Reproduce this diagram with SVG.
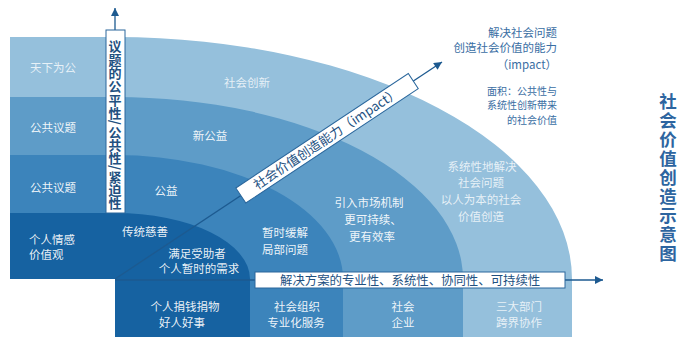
<svg xmlns="http://www.w3.org/2000/svg" width="681" height="338" viewBox="0 0 681 338">
<style>
text{font-family:"Noto Sans CJK SC","Noto Sans",sans-serif;}
.lbl{font-size:11.5px;fill:#ffffff;fill-opacity:0.92;text-anchor:middle;}
.lblL{font-size:11.5px;fill:#ffffff;fill-opacity:0.78;text-anchor:middle;}
.left{text-anchor:start;}
.box{fill:#ffffff;stroke:#2b679c;stroke-width:1;}
.axis{stroke:#1d5a90;stroke-width:1.3;fill:none;}
.btxt{fill:#22507f;}
.side{fill:#3a6ea3;text-anchor:end;}
</style>
<defs>
<marker id="ah" viewBox="0 0 10 10" refX="10" refY="5" markerWidth="9" markerHeight="8" markerUnits="userSpaceOnUse" orient="auto">
<path d="M0,0 L10,5 L0,10 Z" fill="#1d5a90"/>
</marker>
</defs>
<rect width="681" height="338" fill="#ffffff"/>

<g id="band-light">
<path d="M10,37 H115 A457,242 0 0 1 572,279 V337 H115 V279 H10 Z" fill="#95c0dc"/>
<text class="lblL left" x="30" y="72">天下为公</text>
<text class="lblL" x="247" y="87">社会创新</text>
<text class="lblL" x="482" y="171">系统性地解决</text>
<text class="lblL" x="481" y="187">社会问题</text>
<text class="lblL" x="481" y="204">以人为本的社会</text>
<text class="lblL" x="481" y="221">价值创造</text>
<text class="lblL" x="519" y="311">三大部门</text>
<text class="lblL" x="519" y="327">跨界协作</text>
</g>

<g id="band-2">
<path d="M10,97 H115 A348,182 0 0 1 463,279 V337 H115 V279 H10 Z" fill="#5e9cc8"/>
<text class="lbl left" x="30" y="132">公共议题</text>
<text class="lbl" x="210" y="140">新公益</text>
<text class="lbl" x="369" y="207">引入市场机制</text>
<text class="lbl" x="373" y="224">更可持续、</text>
<text class="lbl" x="372" y="241">更有效率</text>
<text class="lbl" x="403" y="311">社会</text>
<text class="lbl" x="403" y="327">企业</text>
</g>

<g id="band-3">
<path d="M10,155 H115 A228,124 0 0 1 343,279 V337 H115 V279 H10 Z" fill="#3c84bb"/>
<text class="lbl left" x="30" y="192">公共议题</text>
<text class="lbl" x="166" y="195">公益</text>
<text class="lbl" x="285" y="237">暂时缓解</text>
<text class="lbl" x="285" y="254">局部问题</text>
<text class="lbl" x="297" y="311">社会组织</text>
<text class="lbl" x="296" y="327">专业化服务</text>
</g>

<g id="band-dark">
<path d="M10,213 H115 A135,66 0 0 1 250,279 V337 H115 V279 H10 Z" fill="#1662a1"/>
<text class="lbl left" x="29" y="244">个人情感</text>
<text class="lbl left" x="29" y="259">价值观</text>
<text class="lbl left" x="122" y="236">传统慈善</text>
<text class="lbl" x="197" y="258">满足受助者</text>
<text class="lbl" x="199" y="273">个人暂时的需求</text>
<text class="lbl" x="185" y="311">个人捐钱捐物</text>
<text class="lbl" x="182" y="327">好人好事</text>
</g>

<g id="connectors">
<line class="axis" x1="115" y1="30" x2="115" y2="8" marker-end="url(#ah)"/>
<line class="axis" x1="115" y1="280" x2="603" y2="280" marker-end="url(#ah)"/>
<line class="axis" x1="115" y1="279" x2="442" y2="62" marker-end="url(#ah)"/>
</g>

<g id="axis-equity">
<rect class="box" x="106" y="30" width="19" height="183"/>
<text class="btxt" x="115" y="40" font-size="13" font-weight="bold" style="writing-mode:vertical-rl" letter-spacing="0.3">议题的公平性/公共性/紧迫性</text>
</g>

<g id="axis-solution">
<rect class="box" x="255" y="272" width="310" height="16"/>
<text class="btxt" x="280" y="284.5" font-size="12.4">解决方案的专业性、系统性、协同性、可持续性</text>
</g>

<g id="axis-impact" transform="translate(115,279) rotate(-33.57)">
<rect class="box" x="151" y="-9" width="207" height="18"/>
<text class="btxt" x="254" y="4.5" font-size="13" text-anchor="middle">社会价值创造能力（impact）</text>
</g>

<g id="note">
<text class="side" x="557" y="37" font-size="11.5">解决社会问题</text>
<text class="side" x="557" y="52" font-size="11.5">创造社会价值的能力</text>
<text class="side" x="557" y="69" font-size="11.5">（impact）</text>
<text class="side" x="557" y="94.5" font-size="10">面积：公共性与</text>
<text class="side" x="557" y="109" font-size="10">系统性创新带来</text>
<text class="side" x="557" y="123.5" font-size="10">的社会价值</text>
</g>

<g id="title">
<text x="668" y="93" font-size="17.5" font-weight="bold" fill="#2d65a0" style="writing-mode:vertical-rl" letter-spacing="1.5">社会价值创造示意图</text>
</g>
</svg>
